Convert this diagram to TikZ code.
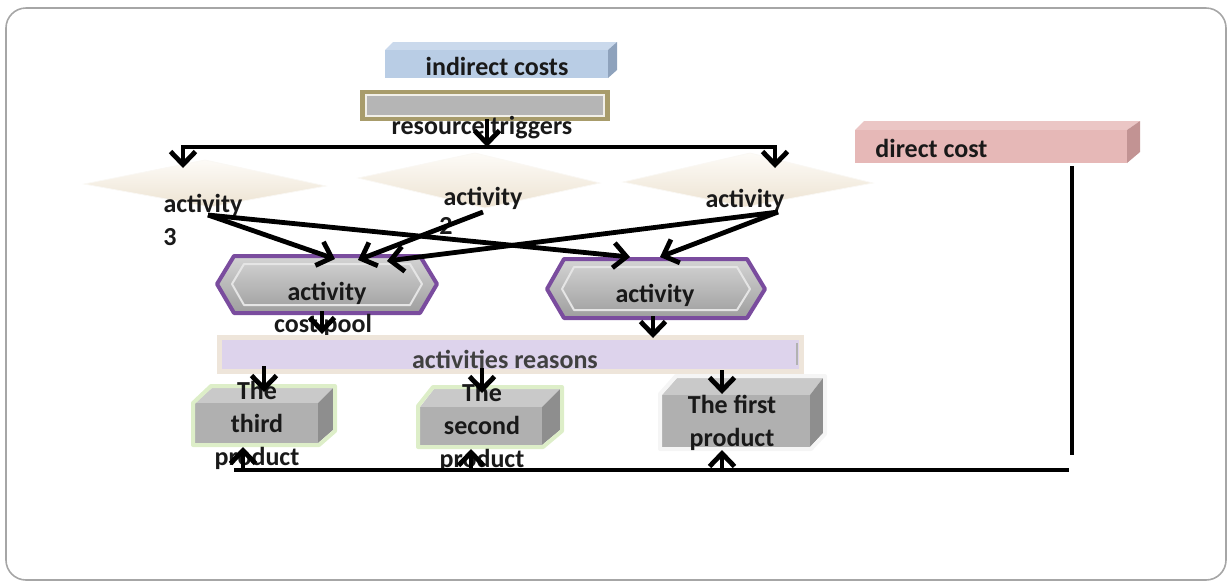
\documentclass[tikz,border=0pt]{standalone}
\usepackage{fontspec}
\setmainfont{Carlito}
\usetikzlibrary{arrows.meta}
\definecolor{frameG}{HTML}{A6A6A6}
\definecolor{icFront}{HTML}{B9CDE5}
\definecolor{icTop}{HTML}{CAD9EC}
\definecolor{icSide}{HTML}{8EA2BC}
\definecolor{rtOuter}{HTML}{A89C6B}
\definecolor{rtInner}{HTML}{B5B5B5}
\definecolor{dmTop}{HTML}{FDFBF7}
\definecolor{dmBot}{HTML}{EDE3D2}
\definecolor{hxBorder}{HTML}{7A4C9E}
\definecolor{hxTop}{HTML}{D4D4D4}
\definecolor{hxBot}{HTML}{9E9E9E}
\definecolor{arFill}{HTML}{DDD3EC}
\definecolor{arBorder}{HTML}{EEE5DA}
\definecolor{pdFront}{HTML}{B0B0B0}
\definecolor{pdTop}{HTML}{C9C9C9}
\definecolor{pdSide}{HTML}{8E8E8E}
\definecolor{pdBorder}{HTML}{DDEEC8}
\definecolor{dcFront}{HTML}{E6B8B7}
\definecolor{dcTop}{HTML}{EBC6C5}
\definecolor{dcSide}{HTML}{C29393}
\begin{document}
\begin{tikzpicture}[x=0.5pt,y=-0.5pt,
  arr/.style={line width=2.4pt,-{Straight Barb[length=6.5pt,width=12.5pt]}},
  ln/.style={line width=2.4pt},
  lbl/.style={font=\fontsize{13pt}{16.5pt}\selectfont\bfseries,text=black!90,inner sep=0pt,align=center},
  pdbox/.style={draw=pdBorder,line width=2pt,line join=round}
]
\useasboundingbox (0,0) rectangle (1232,586);
% frame
\draw[frameG,line width=0.8pt,rounded corners=10pt] (6,8) rectangle (1226,580);

% indirect costs (3D bar)
\fill[icTop] (385,50) -- (393,42) -- (617,42) -- (608,50) -- cycle;
\fill[icSide] (608,50) -- (617,42) -- (617,70) -- (608,78) -- cycle;
\fill[icFront] (385,50) rectangle (608,78);
\node[lbl] (ic) at (497,66) {indirect costs};

% resource triggers
\fill[rtOuter] (360,90) rectangle (610,121);
\fill[rtInner,draw=white!85!rtOuter,line width=0.6pt] (366,95) rectangle (604,116);
\node[lbl] (rt) at (482,128) {resource triggers};

% direct cost
\fill[dcTop] (855,130) -- (864,121) -- (1140,121) -- (1127,130) -- cycle;
\fill[dcSide] (1127,130) -- (1140,121) -- (1140,152) -- (1127,163) -- cycle;
\fill[dcFront] (855,130) rectangle (1127,163);
\node[lbl,anchor=west] (dc) at (875,148) {direct cost};

% diamonds
\shade[top color=dmTop,bottom color=dmBot,draw=white!75!dmBot,line width=0.4pt]
  (84,184) -- (205,160) -- (326,186) -- (210,207) -- cycle;
\shade[top color=dmTop,bottom color=dmBot,draw=white!75!dmBot,line width=0.4pt]
  (358,178) -- (475,153) -- (600,183) -- (485,208) -- cycle;
\shade[top color=dmTop,bottom color=dmBot,draw=white!75!dmBot,line width=0.4pt]
  (623,182) -- (750,153) -- (873,183) -- (745,207) -- cycle;
\node[lbl] (a3) at (203,205) {activity};
\node[lbl] (a3n) at (170,237) {3};
\node[lbl] (a2) at (483,198) {activity};
\node[lbl] (a2n) at (446,226) {2};
\node[lbl] (a1) at (745,200) {activity};

% hexagons (cost pools)
\shade[top color=hxTop,bottom color=hxBot,draw=hxBorder,line width=2pt,line join=round]
  (217,284) -- (234,256) -- (420,256) -- (437,284) -- (420,313) -- (234,313) -- cycle;
\draw[white!80!gray,line width=1pt,line join=round]
  (232,284) -- (244,264) -- (410,264) -- (422,284) -- (410,305) -- (244,305) -- cycle;
\node[lbl] (p1) at (327,293) {activity};
\node[lbl] (p1b) at (323,325) {cost pool};
\shade[top color=hxTop,bottom color=hxBot,draw=hxBorder,line width=2pt,line join=round]
  (547,289) -- (564,259) -- (747,259) -- (765,289) -- (747,318) -- (564,318) -- cycle;
\draw[white!80!gray,line width=1pt,line join=round]
  (562,289) -- (574,267) -- (737,267) -- (750,289) -- (737,310) -- (574,310) -- cycle;
\node[lbl] (p2) at (655,295) {activity};

% activities reasons
\fill[arFill,draw=arBorder,line width=2.5pt] (219,337) rectangle (801,371);
\draw[gray!60,line width=0.8pt] (797,343) -- (797,365);
\node[lbl,text=black!75] (ar) at (505,359) {activities reasons};

% products
\fill[pdTop] (195,403) -- (212,388) -- (333,388) -- (318,403) -- cycle;
\fill[pdSide] (318,403) -- (333,388) -- (333,430) -- (318,443) -- cycle;
\fill[pdFront] (195,403) rectangle (318,443);
\draw[pdbox] (193,403) -- (211,386) -- (335,386) -- (335,431) -- (319,445) -- (193,445) -- cycle;
\node[lbl] (pr3) at (257,425) {The\\third\\product};

\fill[pdTop] (420,407) -- (434,389) -- (560,389) -- (542,407) -- cycle;
\fill[pdSide] (542,407) -- (560,389) -- (560,430) -- (542,445) -- cycle;
\fill[pdFront] (420,407) rectangle (542,445);
\draw[pdbox] (418,406) -- (433,387) -- (562,387) -- (562,431) -- (543,447) -- (418,447) -- cycle;
\node[lbl] (pr2) at (482,427) {The\\second\\product};

\fill[pdTop] (662,395) -- (677,378) -- (823,378) -- (810,395) -- cycle;
\fill[pdSide] (810,395) -- (823,378) -- (823,433) -- (810,447) -- cycle;
\fill[pdFront] (662,395) rectangle (810,447);
\draw[white!92!gray,line width=2pt,line join=round] (660,394) -- (676,376) -- (825,376) -- (825,434) -- (811,449) -- (660,449) -- cycle;
\node[lbl] (pr1) at (732,423) {The first\\product};

% connector coordinates
\coordinate (rtOut) at (487,119);
\coordinate (busM) at (487,147);
\coordinate (a3in) at (183,168);
\coordinate (a1in) at (775,168);
\coordinate (a3out) at (208,215);
\coordinate (a2out) at (483,212);
\coordinate (a1out) at (778,212);
\coordinate (p1inA) at (335,259);
\coordinate (p1inB) at (358,260);
\coordinate (p1inC) at (387,261);
\coordinate (p2inA) at (630,257);
\coordinate (p2inB) at (660,257);
\coordinate (p1out) at (322,311);
\coordinate (p1to) at (322,334);
\coordinate (p2out) at (653,316);
\coordinate (p2to) at (653,338);
\coordinate (ar3) at (264,366);
\coordinate (ar3to) at (264,392);
\coordinate (ar2) at (482,368);
\coordinate (ar2to) at (482,393);
\coordinate (ar1) at (722,370);
\coordinate (ar1to) at (722,394);
\coordinate (dcOut) at (1072,166);
\coordinate (dcEnd) at (1072,455);
\coordinate (busL) at (234,470);
\coordinate (busR) at (1069,470);
\coordinate (b3) at (243,470);
\coordinate (b3to) at (243,447);
\coordinate (b2) at (471,470);
\coordinate (b2to) at (471,449);
\coordinate (b1) at (722,470);
\coordinate (b1to) at (722,450);

% connectors
\draw[arr] (rtOut) -- (busM);
\draw[arr] (busM) -| (a3in);
\draw[arr] (busM) -| (a1in);
\draw[arr] (a3out) -- (p1inA);
\draw[arr] (a3out) -- (p2inA);
\draw[arr] (a2out) -- (p1inB);
\draw[arr] (a1out) -- (p1inC);
\draw[arr] (a1out) -- (p2inB);
\draw[arr] (p1out) -- (p1to);
\draw[arr] (p2out) -- (p2to);
\draw[arr] (ar3) -- (ar3to);
\draw[arr] (ar2) -- (ar2to);
\draw[arr] (ar1) -- (ar1to);
\draw[ln] (dcOut) -- (dcEnd);
\draw[ln] (busL) -- (busR);
\draw[arr] (b3) -- (b3to);
\draw[arr] (b2) -- (b2to);
\draw[arr] (b1) -- (b1to);
\end{tikzpicture}
\end{document}
